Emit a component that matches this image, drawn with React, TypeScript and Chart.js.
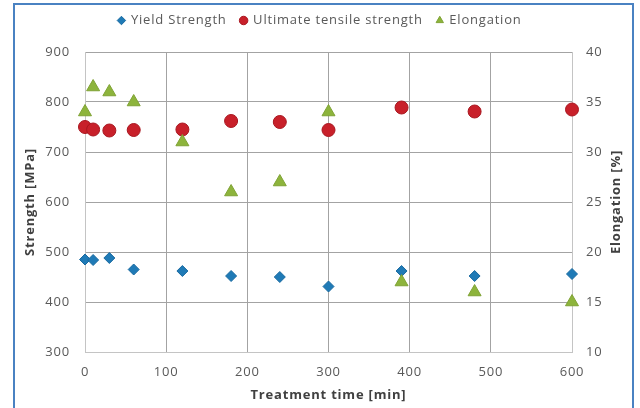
import { useEffect, useRef } from 'react';
import { Chart, registerables } from 'chart.js';

Chart.register(...registerables);

const treatmentTimes = [0, 10, 30, 60, 120, 180, 240, 300, 390, 480, 600];
const yieldStrength = [485, 484, 488, 465, 462, 452, 450, 431, 462, 452, 456];
const ultimateStrength = [750, 745, 743, 744, 745, 762, 760, 744, 789, 781, 785];
const elongation = [34, 36.5, 36, 35, 31, 26, 27, 34, 17, 16, 15];

const seriesLabels = ['Yield Strength', 'Ultimate tensile strength', 'Elongation'];
const xAxisTitle = 'Treatment time [min]';
const yAxisTitle = 'Strength [MPa]';
const y2AxisTitle = 'Elongation [%]';

const FONT = "'Open Sans', sans-serif";
const BLUE = '#1f7ab6';
const RED = '#c8202a';
const GREEN = '#8db43c';
const TICK = '#595959';
const TITLE = '#404040';
const GRID = '#a3a3a3';
const AXIS = '#c4c4c4';
const SPACING = '0.8px';

const setSpacing = (chart: any) => {
  const c: any = chart.ctx;
  if (c && 'letterSpacing' in c) c.letterSpacing = SPACING;
};

const legendShift = {
  id: 'legendShift',
  beforeUpdate(chart: any) {
    setSpacing(chart);
  },
  beforeLayout(chart: any) {
    setSpacing(chart);
    const lg = chart.legend;
    if (lg && !lg.__patched) {
      lg.__patched = true;
      const fit = lg.fit;
      lg.fit = function () {
        fit.call(this);
        this.height = 52;
      };
    }
  },
  beforeDraw(chart: any) {
    setSpacing(chart);
  },
};

const rightTitle = {
  id: 'rightTitle',
  afterDraw(chart: any) {
    const { ctx, chartArea } = chart;
    ctx.save();
    ctx.translate(chartArea.right + 44, (chartArea.top + chartArea.bottom) / 2);
    ctx.rotate(-Math.PI / 2);
    ctx.font = `bold 13px ${FONT}`;
    ctx.fillStyle = TITLE;
    ctx.textAlign = 'center';
    ctx.textBaseline = 'middle';
    ctx.fillText(y2AxisTitle, 0, 0);
    ctx.restore();
  },
};

export default function App() {
  const ref = useRef<HTMLCanvasElement>(null);
  useEffect(() => {
    const canvas = ref.current!;
    const pts = (ys: number[]) => treatmentTimes.map((x, i) => ({ x, y: ys[i] }));
    const chart = new Chart(canvas, {
      type: 'scatter',
      data: {
        datasets: [
          {
            label: seriesLabels[0],
            data: pts(yieldStrength),
            yAxisID: 'y',
            pointStyle: 'rectRot',
            pointRadius: 5.5,
            backgroundColor: BLUE,
            borderColor: '#1a6aa0',
            borderWidth: 1,
            order: 2,
            clip: false,
          },
          {
            label: seriesLabels[1],
            data: pts(ultimateStrength),
            yAxisID: 'y',
            pointStyle: 'circle',
            pointRadius: 6.5,
            backgroundColor: RED,
            borderColor: '#a8161f',
            borderWidth: 1,
            order: 1,
            clip: false,
          },
          {
            label: seriesLabels[2],
            data: pts(elongation),
            yAxisID: 'y2',
            pointStyle: 'triangle',
            pointRadius: 7.5,
            backgroundColor: GREEN,
            borderColor: '#7fa234',
            borderWidth: 1,
            order: 0,
            clip: false,
          },
        ],
      },
      options: {
        animation: false,
        responsive: false,
        layout: { padding: { top: 0, left: 0, right: 0, bottom: 0 } },
        plugins: {
          tooltip: { enabled: false },
          legend: {
            position: 'top',
            labels: {
              usePointStyle: true,
              boxWidth: 6,
              boxHeight: 6,
              padding: 14,
              color: TICK,
              font: { family: FONT, size: 13 },
              sort: (a: any, b: any) => a.datasetIndex - b.datasetIndex,
            },
          },
        },
        scales: {
          x: {
            type: 'linear',
            position: 'bottom',
            min: 0,
            max: 600,
            ticks: { stepSize: 100, color: TICK, font: { family: FONT, size: 13 }, padding: 12 },
            grid: { color: GRID, drawTicks: false },
            border: { color: AXIS },
            title: {
              display: true,
              text: xAxisTitle,
              color: TITLE,
              font: { family: FONT, size: 13, weight: 'bold' },
              padding: { top: 0, bottom: 5 },
            },
            afterFit: (s: any) => {
              s.height = 56;
            },
          },
          y: {
            type: 'linear',
            position: 'left',
            min: 300,
            max: 900,
            ticks: { stepSize: 100, color: TICK, font: { family: FONT, size: 13 }, padding: 15 },
            grid: { color: GRID, drawTicks: false },
            border: { color: AXIS },
            title: {
              display: true,
              text: yAxisTitle,
              color: TITLE,
              font: { family: FONT, size: 13, weight: 'bold' },
              padding: { top: 22, bottom: 0 },
            },
            afterFit: (s: any) => {
              s.width = 85;
            },
          },
          y2: {
            type: 'linear',
            position: 'right',
            min: 10,
            max: 40,
            ticks: { stepSize: 5, color: TICK, font: { family: FONT, size: 13 }, padding: 14 },
            grid: { drawOnChartArea: false, drawTicks: false },
            border: { color: AXIS },
            afterFit: (s: any) => {
              s.width = 68;
            },
          },
        },
      },
      plugins: [legendShift, rightTitle],
    });
    return () => chart.destroy();
  }, []);

  return (
    <div
      style={{
        position: 'fixed',
        left: 0,
        top: 0,
        width: 640,
        height: 408,
        overflow: 'hidden',
        background: '#fff',
      }}
    >
      <div
        style={{
          position: 'absolute',
          left: 13,
          top: 3,
          width: 621,
          height: 440,
          border: '2px solid #4a82c2',
          boxSizing: 'border-box',
        }}
      />
      <canvas ref={ref} width={640} height={408} style={{ position: 'absolute', left: 0, top: 0 }} />
    </div>
  );
}
